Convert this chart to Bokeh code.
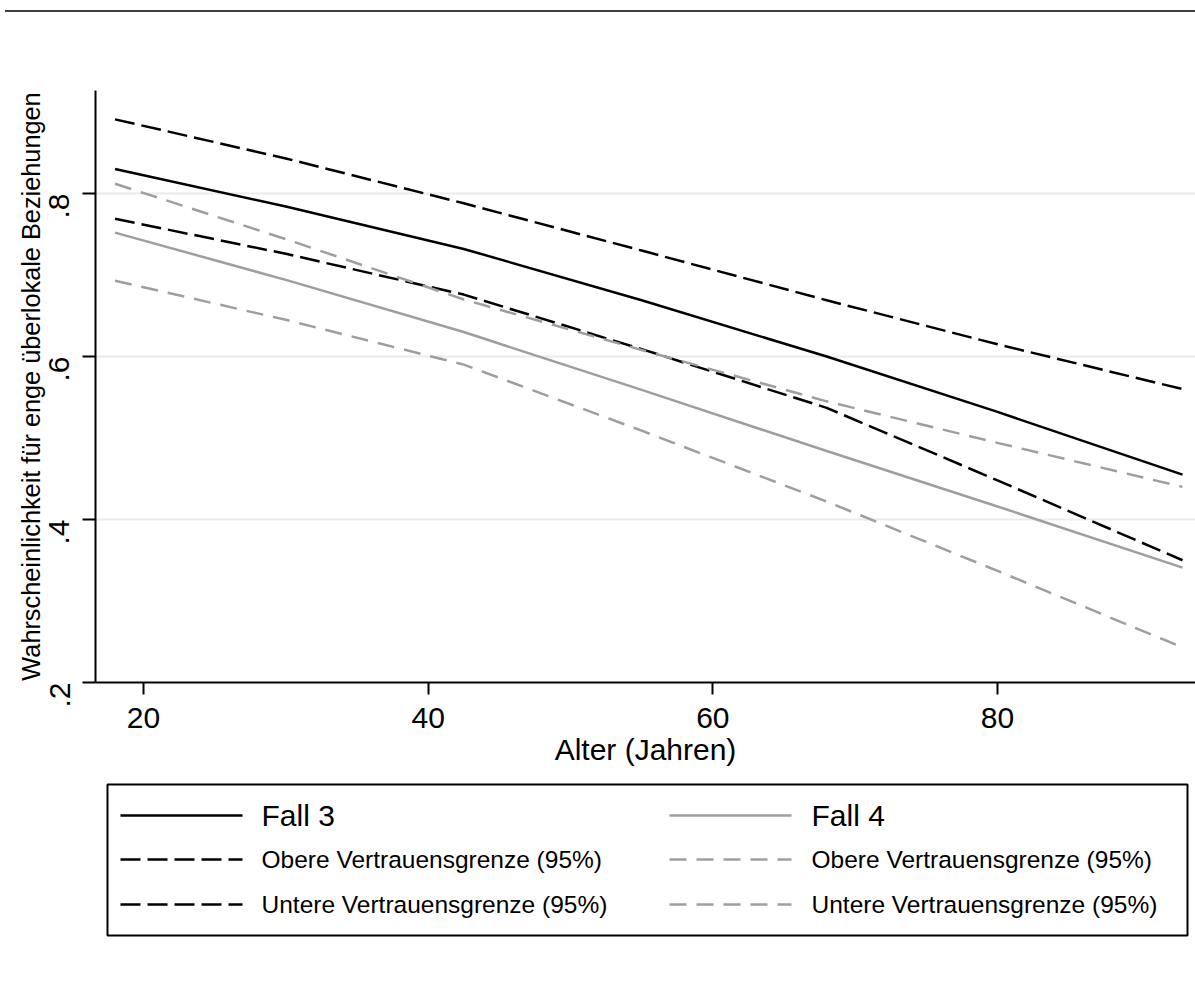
import math
from bokeh.plotting import figure
from bokeh.layouts import column
from bokeh.models import Div, FixedTicker, Range1d
from bokeh.core.properties import value
from bokeh.embed import file_html
from bokeh.resources import INLINE

# ---------------- data ----------------
ages = [18, 30, 42.5, 55, 68, 80, 93]
fall3 = [0.830, 0.784, 0.732, 0.669, 0.600, 0.532, 0.455]
fall3_upper = [0.891, 0.843, 0.788, 0.730, 0.669, 0.615, 0.560]
fall3_lower = [0.769, 0.726, 0.676, 0.609, 0.537, 0.448, 0.350]
fall4 = [0.752, 0.694, 0.630, 0.559, 0.484, 0.416, 0.341]
fall4_upper = [0.812, 0.744, 0.670, 0.608, 0.545, 0.494, 0.440]
fall4_lower = [0.693, 0.645, 0.590, 0.509, 0.422, 0.337, 0.243]

x_ticks = [20, 40, 60, 80]
x_tick_labels = ["20", "40", "60", "80"]
y_ticks = [0.2, 0.4, 0.6, 0.8]
y_tick_labels = [".2", ".4", ".6", ".8"]

x_title = "Alter (Jahren)"
y_title = "Wahrscheinlichkeit für enge überlokale Beziehungen"

series_names = ["Fall 3", "Obere Vertrauensgrenze (95%)", "Untere Vertrauensgrenze (95%)",
                "Fall 4", "Obere Vertrauensgrenze (95%)", "Untere Vertrauensgrenze (95%)"]
series_values = [fall3, fall3_upper, fall3_lower, fall4, fall4_upper, fall4_lower]

# ---------------- styles ----------------
BLACK = "#000000"
GRAY = "#9e9e9e"
FONT = "Liberation Sans"
styles = [
    dict(color=BLACK, dash="solid", width=2.5),
    dict(color=BLACK, dash="20 7", width=2.5),
    dict(color=BLACK, dash="20 7", width=2.5),
    dict(color=GRAY, dash="solid", width=2.5),
    dict(color=GRAY, dash="17 10", width=2.5),
    dict(color=GRAY, dash="17 10", width=2.5),
]

W = 1195
LEFT = 95

top_rule = Div(text="", width=W - 5, height=12, margin=(0, 0, 0, 5),
               styles={"border-bottom": "2px solid #404040", "box-sizing": "border-box"})

p = figure(width=W, height=768, output_backend="svg", toolbar_location=None,
           x_range=Range1d(16.628, 93.911), y_range=Range1d(0.2, 0.9264),
           min_border_left=LEFT, min_border_right=0, min_border_top=78, min_border_bottom=98)
p.background_fill_color = "white"
p.border_fill_color = "white"
p.outline_line_color = None

for vals, st in zip(series_values, styles):
    p.line(ages, vals, line_color=st["color"], line_width=st["width"], line_dash=st["dash"])

# axes
p.xaxis.ticker = FixedTicker(ticks=x_ticks)
p.xaxis.major_label_overrides = {t: l for t, l in zip(x_ticks, x_tick_labels)}
p.yaxis.ticker = FixedTicker(ticks=y_ticks)
p.yaxis.major_label_overrides = {t: l for t, l in zip(y_ticks, y_tick_labels)}
p.yaxis.major_label_orientation = math.pi / 2

for ax in (p.xaxis, p.yaxis):
    ax.axis_line_color = BLACK
    ax.axis_line_width = 2
    ax.major_tick_line_color = BLACK
    ax.major_tick_line_width = 2
    ax.major_tick_out = 12
    ax.major_tick_in = 0
    ax.minor_tick_line_color = None
    ax.major_label_text_font = FONT
    ax.major_label_text_font_size = "30px"
    ax.major_label_text_color = BLACK
    ax.axis_label_text_font = FONT
    ax.axis_label_text_font_style = "normal"
    ax.axis_label_text_color = BLACK

p.yaxis.major_tick_out = 13
p.xaxis.major_label_standoff = 13
p.yaxis.major_label_standoff = 23
p.xaxis.axis_label = x_title
p.xaxis.axis_label_text_font_size = "30px"
p.xaxis.axis_label_standoff = 2
p.yaxis.axis_label = y_title
p.yaxis.axis_label_text_font_size = "25.3px"
p.yaxis.axis_label_standoff = -8

p.xgrid.grid_line_color = None
p.ygrid.ticker = FixedTicker(ticks=y_ticks)
p.ygrid.grid_line_color = "#ebebeb"
p.ygrid.grid_line_width = 2

# ---------------- legend panel (coordinates = page pixels) ----------------
TOP2 = 780
H2 = 206
lg = figure(width=W, height=H2, output_backend="svg", toolbar_location=None,
            x_range=Range1d(LEFT, W), y_range=Range1d(TOP2 + H2, TOP2),
            min_border_left=LEFT, min_border_right=0,
            min_border_top=0, min_border_bottom=0)
lg.axis.visible = False
lg.grid.visible = False
lg.outline_line_color = None
lg.background_fill_color = "white"
lg.border_fill_color = "white"

lg.quad(left=[107], right=[1187], top=[784], bottom=[935], fill_color=None,
        line_color=BLACK, line_width=2)

row_y = [815, 859, 904]
col_sample = [(120, 242, 261), (669, 791, 811)]
for i, (name, st) in enumerate(zip(series_names, styles)):
    c = i // 3
    r = i % 3
    x0, x1, xt = col_sample[c]
    y = row_y[r]
    lg.line([x0, x1], [y, y], line_color=st["color"], line_width=st["width"], line_dash=st["dash"])
    lg.text(x=[xt], y=[y], text=[name], text_font=value(FONT),
            text_font_size="30px" if r == 0 else "24.5px",
            text_baseline="middle", text_align="left", text_color=BLACK)

layout = column(top_rule, p, lg, spacing=0)
open("out.html", "w").write(file_html(layout, INLINE))
